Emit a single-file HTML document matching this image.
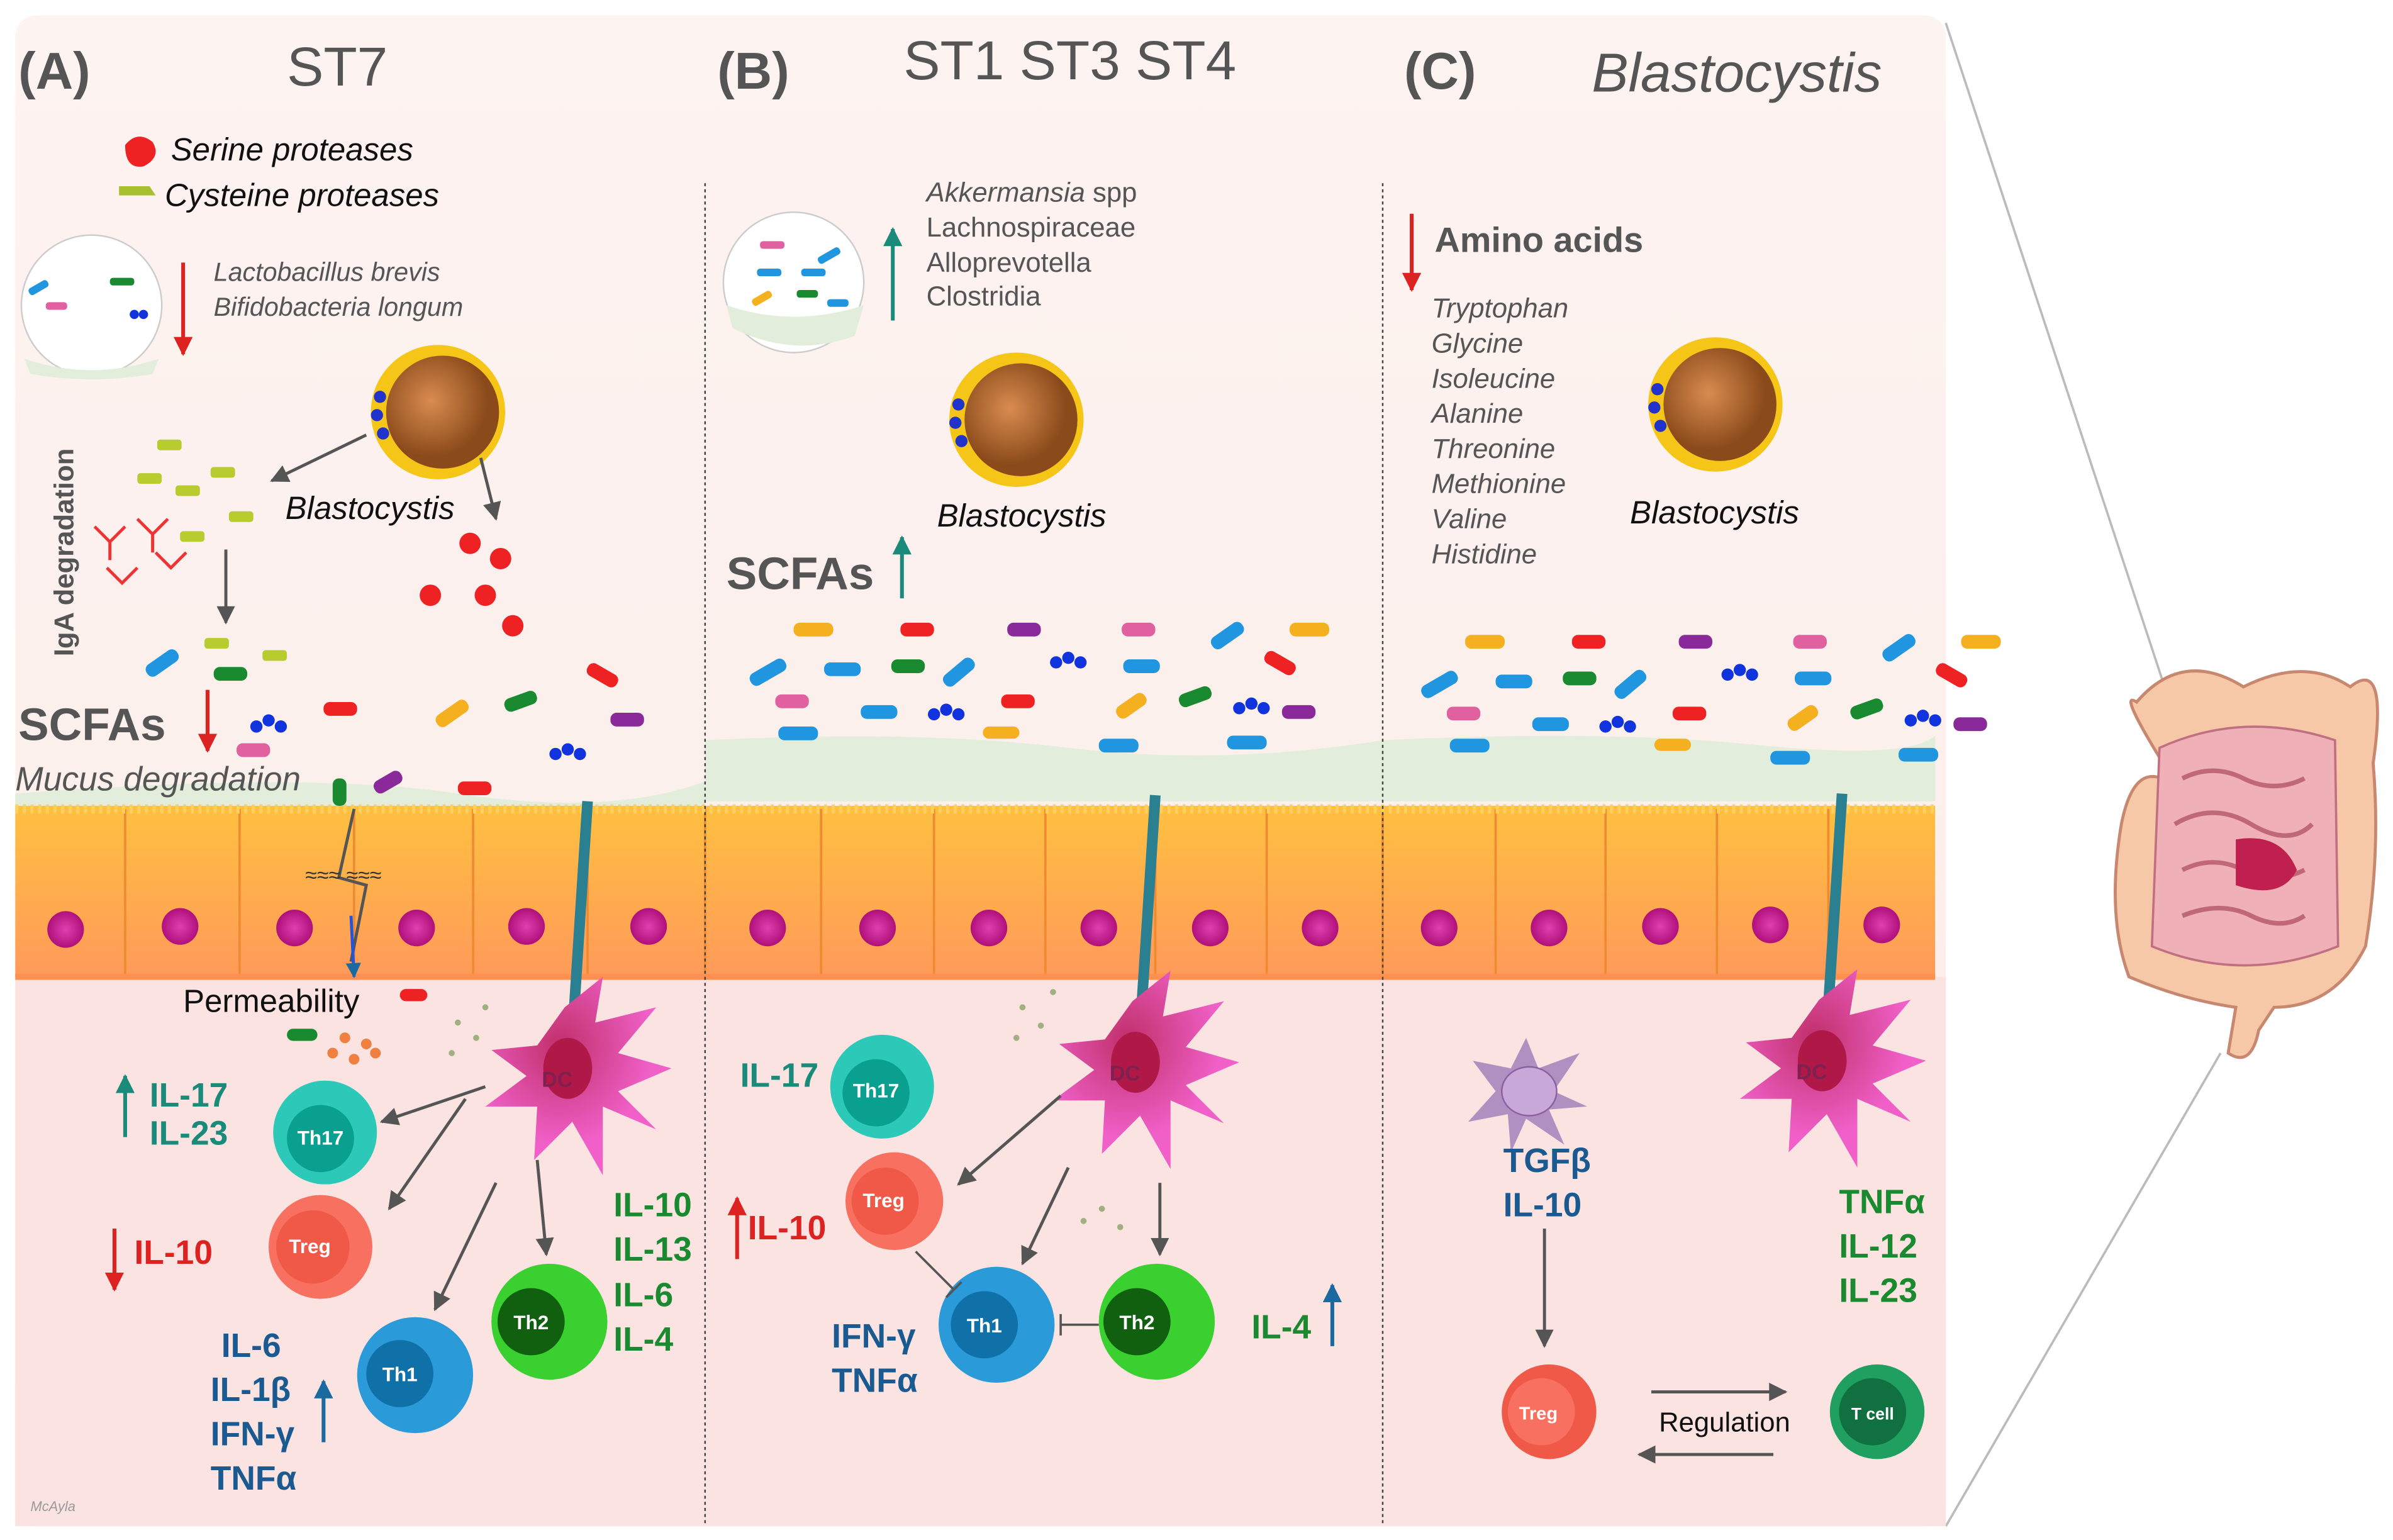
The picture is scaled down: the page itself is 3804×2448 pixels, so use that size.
<!DOCTYPE html>
<html><head><meta charset="utf-8"><style>
html,body{margin:0;padding:0;background:#fff;width:3804px;height:2448px;overflow:hidden}
svg{display:block}
text{font-family:"Liberation Sans",sans-serif}
.it{font-style:italic;fill:#555}
.b{font-weight:bold}
</style></head><body>
<svg width="3804" height="2448" viewBox="0 0 1568 1009" xmlns="http://www.w3.org/2000/svg">
<defs>
<linearGradient id="bg" x1="0" y1="0" x2="0" y2="1">
<stop offset="0" stop-color="#fdf3f0"/><stop offset="0.6" stop-color="#fcefec"/><stop offset="1" stop-color="#fbe2e0"/></linearGradient>
<radialGradient id="nuc"><stop offset="0" stop-color="#e040b0"/><stop offset="1" stop-color="#b0107a"/></radialGradient>
<radialGradient id="blast" cx="0.4" cy="0.4"><stop offset="0" stop-color="#d98c50"/><stop offset="1" stop-color="#8a4a1a"/></radialGradient>
<linearGradient id="epi" x1="0" y1="0" x2="0" y2="1"><stop offset="0" stop-color="#ffc040"/><stop offset="1" stop-color="#ff9a5a"/></linearGradient>
<radialGradient id="dc" cx="0.4" cy="0.35"><stop offset="0" stop-color="#c0306a"/><stop offset="1" stop-color="#f060c8"/></radialGradient>
<marker id="ar" viewBox="0 0 10 10" refX="9" refY="5" markerWidth="6" markerHeight="6" orient="auto"><path d="M0,0L10,5L0,10z" fill="#555"/></marker>
<marker id="rd" viewBox="0 0 10 10" refX="9" refY="5" markerWidth="5" markerHeight="5" orient="auto"><path d="M0,0L10,5L0,10z" fill="#d22"/></marker>
<marker id="tl" viewBox="0 0 10 10" refX="9" refY="5" markerWidth="5" markerHeight="5" orient="auto"><path d="M0,0L10,5L0,10z" fill="#1a8a7a"/></marker>
<marker id="bl" viewBox="0 0 10 10" refX="9" refY="5" markerWidth="5" markerHeight="5" orient="auto"><path d="M0,0L10,5L0,10z" fill="#1a6aa0"/></marker>
<g id="blastc"><circle r="44" fill="#f5c518"/><circle cx="3" r="37" fill="url(#blast)"/><circle cx="-38" cy="-10" r="4" fill="#2233cc"/><circle cx="-40" cy="2" r="4" fill="#2233cc"/><circle cx="-36" cy="14" r="4" fill="#2233cc"/></g>
</defs>

<!-- guide lines to intestine -->
<line x1="1275" y1="15" x2="1420" y2="455" stroke="#bbb" stroke-width="1.5"/>
<line x1="1275" y1="1000" x2="1455" y2="690" stroke="#bbb" stroke-width="1.5"/>

<rect x="10" y="10" width="1265" height="990" rx="14" fill="url(#bg)"/>
<rect x="10" y="640" width="1265" height="360" fill="#fbe3e1"/>

<!-- mucus -->
<path d="M462,485 Q600,478 700,490 T906,485 L906,525 L462,525z" fill="#e2eedb"/>
<path d="M906,485 Q1050,478 1150,488 T1268,482 L1268,525 L906,525z" fill="#e2eedb"/>
<path d="M10,520 Q200,505 300,520 T462,512 L462,530 L10,530z" fill="#e2eedb"/>

<!-- epithelium -->
<g id="cells">
<rect x="10" y="528" width="1258" height="112" fill="url(#epi)"/>
</g>
<g stroke="#f08a30" stroke-width="1.5" fill="none">
<path d="M82,530V640M157,530V640M232,530V640M310,530V640M385,530V640M462,530V640M538,530V640M612,530V640M685,530V640M757,530V640M830,530V640M906,530V640M980,530V640M1052,530V640M1125,530V640M1198,530V640"/>
</g>
<path d="M10,530 L1268,530" stroke="#ffd060" stroke-width="6" stroke-dasharray="2 3"/>
<path d="M10,640 L1268,640" stroke="#ff9050" stroke-width="4"/>
<g fill="url(#nuc)">
<circle cx="43" cy="609" r="12"/><circle cx="118" cy="607" r="12"/><circle cx="193" cy="608" r="12"/><circle cx="273" cy="608" r="12"/><circle cx="345" cy="607" r="12"/><circle cx="425" cy="607" r="12"/>
<circle cx="503" cy="608" r="12"/><circle cx="575" cy="608" r="12"/><circle cx="648" cy="608" r="12"/><circle cx="720" cy="608" r="12"/><circle cx="793" cy="608" r="12"/><circle cx="865" cy="608" r="12"/>
<circle cx="943" cy="608" r="12"/><circle cx="1015" cy="608" r="12"/><circle cx="1088" cy="607" r="12"/><circle cx="1160" cy="606" r="12"/><circle cx="1233" cy="606" r="12"/>
</g>

<!-- dividers -->
<line x1="462" y1="120" x2="462" y2="1000" stroke="#444" stroke-width="1" stroke-dasharray="2 2"/>
<line x1="906" y1="120" x2="906" y2="1000" stroke="#444" stroke-width="1" stroke-dasharray="2 2"/>

<!-- headers -->
<text x="12" y="58" font-size="34" class="b" fill="#555">(A)</text>
<text x="188" y="56" font-size="36" fill="#555">ST7</text>
<text x="470" y="58" font-size="34" class="b" fill="#555">(B)</text>
<text x="592" y="52" font-size="36" fill="#555">ST1  ST3  ST4</text>
<text x="920" y="58" font-size="34" class="b" fill="#555">(C)</text>
<text x="1043" y="60" font-size="36" font-style="italic" fill="#555">Blastocystis</text>

<!-- Panel A top -->
<path d="M82,95 q8,-10 18,-2 q6,10 -6,16 q-12,2 -12,-14z" fill="#e22"/>
<text x="112" y="105" font-size="21" font-style="italic" fill="#111">Serine proteases</text>
<path d="M78,122 h20 l4,6 h-24z" fill="#a8c030"/>
<text x="108" y="135" font-size="21" font-style="italic" fill="#111">Cysteine proteases</text>
<circle cx="60" cy="200" r="46" fill="#fff" stroke="#ccc"/>
<path d="M16,235 Q60,250 104,235 L100,245 Q60,252 20,245z" fill="#e2eedb"/>
<rect x="18" y="186" width="14" height="5" rx="2" fill="#2196e0" transform="rotate(-30 25 188)"/>
<rect x="30" y="198" width="14" height="5" rx="2" fill="#e060a0"/>
<rect x="72" y="182" width="16" height="5" rx="2" fill="#1a8a30"/>
<circle cx="88" cy="206" r="3" fill="#1133dd"/><circle cx="94" cy="206" r="3" fill="#1133dd"/>
<line x1="120" y1="172" x2="120" y2="232" stroke="#d22" stroke-width="2.5" marker-end="url(#rd)"/>
<text x="140" y="184" font-size="17" class="it">Lactobacillus brevis</text>
<text x="140" y="207" font-size="17" class="it">Bifidobacteria longum</text>
<use href="#blastc" x="287" y="270"/>
<text x="187" y="340" font-size="21" font-style="italic" fill="#111">Blastocystis</text>
<line x1="240" y1="285" x2="178" y2="315" stroke="#555" stroke-width="2" marker-end="url(#ar)"/>
<line x1="315" y1="300" x2="325" y2="340" stroke="#555" stroke-width="2" marker-end="url(#ar)"/>
<text transform="translate(48,430) rotate(-90)" font-size="18" class="b" fill="#555">IgA degradation</text>
<g fill="#b8cc30">
<rect x="103" y="288" width="16" height="7" rx="2"/><rect x="90" y="310" width="16" height="7" rx="2"/><rect x="115" y="318" width="16" height="7" rx="2"/><rect x="138" y="306" width="16" height="7" rx="2"/><rect x="118" y="348" width="16" height="7" rx="2"/><rect x="150" y="335" width="16" height="7" rx="2"/><rect x="134" y="418" width="16" height="7" rx="2"/><rect x="172" y="426" width="16" height="7" rx="2"/>
</g>
<g stroke="#e33" stroke-width="2" fill="none">
<path d="M62,345 l10,10 l10,-10 M72,355 v12"/><path d="M90,340 l10,10 l10,-10 M100,350 v12"/><path d="M70,372 l10,10 l10,-10"/><path d="M102,362 l10,10 l10,-10"/>
</g>
<line x1="148" y1="360" x2="148" y2="408" stroke="#555" stroke-width="2" marker-end="url(#ar)"/>
<g fill="#e22">
<circle cx="308" cy="356" r="7"/><circle cx="328" cy="366" r="7"/><circle cx="282" cy="390" r="7"/><circle cx="318" cy="390" r="7"/><circle cx="336" cy="410" r="7"/>
</g>
<text x="12" y="485" font-size="30" class="b" fill="#555">SCFAs</text>
<line x1="136" y1="452" x2="136" y2="492" stroke="#d22" stroke-width="2.5" marker-end="url(#rd)"/>
<text x="10" y="518" font-size="22" class="it">Mucus degradation</text>
<!-- A bacteria -->
<g>
<rect x="94" y="430" width="24" height="9" rx="4" fill="#2196e0" transform="rotate(-35 106 434)"/>
<rect x="140" y="437" width="22" height="9" rx="4" fill="#1a8a30"/>
<circle cx="168" cy="476" r="4" fill="#1133dd"/><circle cx="176" cy="472" r="4" fill="#1133dd"/><circle cx="184" cy="476" r="4" fill="#1133dd"/>
<rect x="212" y="460" width="22" height="9" rx="4" fill="#e22"/>
<rect x="155" y="487" width="22" height="9" rx="4" fill="#e060a0"/>
<rect x="284" y="463" width="24" height="9" rx="4" fill="#f5b020" transform="rotate(-35 296 467)"/>
<rect x="330" y="455" width="22" height="9" rx="4" fill="#1a8a30" transform="rotate(-20 341 459)"/>
<rect x="384" y="438" width="22" height="9" rx="4" fill="#e22" transform="rotate(30 395 442)"/>
<rect x="400" y="467" width="22" height="9" rx="4" fill="#8a2a9a"/>
<circle cx="364" cy="494" r="4" fill="#1133dd"/><circle cx="372" cy="491" r="4" fill="#1133dd"/><circle cx="380" cy="494" r="4" fill="#1133dd"/>
<rect x="244" y="508" width="20" height="9" rx="4" fill="#8a2a9a" transform="rotate(-30 254 512)"/>
<rect x="300" y="512" width="22" height="9" rx="4" fill="#e22"/>
<rect x="218" y="510" width="9" height="18" rx="4" fill="#1a8a30"/>
</g>
<path d="M232,530 L222,575 L240,580 L230,630" stroke="#555" stroke-width="2" fill="none"/>
<line x1="230" y1="600" x2="232" y2="640" stroke="#2255dd" stroke-width="2" marker-end="url(#bl)"/>
<text x="200" y="578" font-size="14" fill="#333">≈≈≈    ≈≈≈</text>
<text x="120" y="663" font-size="21" fill="#111">Permeability</text>
<rect x="262" y="648" width="18" height="8" rx="4" fill="#e22"/>
<rect x="188" y="674" width="20" height="8" rx="4" fill="#1a8a30"/>
<g fill="#f08040"><circle cx="226" cy="680" r="3.5"/><circle cx="240" cy="684" r="3.5"/><circle cx="218" cy="690" r="3.5"/><circle cx="232" cy="694" r="3.5"/><circle cx="246" cy="690" r="3.5"/></g>

<!-- DCs -->
<g id="dcA">
<path d="M385,525 Q380,600 375,680" stroke="#2a8090" stroke-width="7" fill="none"/>
<path d="M370,660 L395,640 L390,670 L430,660 L405,690 L440,700 L405,715 L430,740 L395,725 L395,770 L375,735 L350,760 L352,725 L318,725 L345,705 L322,688 L352,685 Z" fill="url(#dc)"/>
<ellipse cx="372" cy="700" rx="16" ry="20" fill="#b01848"/>
<text x="355" y="712" font-size="14" class="b" fill="#802050">DC</text>
</g>
<use href="#dcA" x="372" y="-4"/>
<use href="#dcA" x="822" y="-5"/>
<g fill="#a0b080"><circle cx="300" cy="670" r="2"/><circle cx="312" cy="680" r="2"/><circle cx="296" cy="690" r="2"/><circle cx="318" cy="660" r="2"/><circle cx="670" cy="660" r="2"/><circle cx="682" cy="672" r="2"/><circle cx="666" cy="680" r="2"/><circle cx="690" cy="650" r="2"/><circle cx="710" cy="800" r="2"/><circle cx="722" cy="792" r="2"/><circle cx="734" cy="804" r="2"/></g>

<!-- Panel A cells -->
<g font-weight="bold" fill="#fff" font-size="13" text-anchor="middle">
<circle cx="213" cy="742" r="34" fill="#2cc8b8"/><circle cx="210" cy="746" r="22" fill="#0aa090"/><text x="210" y="750">Th17</text>
<circle cx="210" cy="817" r="34" fill="#f87060"/><circle cx="205" cy="817" r="24" fill="#f05848"/><text x="203" y="821">Treg</text>
<circle cx="272" cy="901" r="38" fill="#2a9ad8"/><circle cx="262" cy="900" r="22" fill="#1070a8"/><text x="262" y="905">Th1</text>
<circle cx="360" cy="866" r="38" fill="#3ad030"/><circle cx="348" cy="866" r="22" fill="#106010"/><text x="348" y="871">Th2</text>
</g>
<g stroke="#555" stroke-width="2" marker-end="url(#ar)">
<line x1="318" y1="712" x2="250" y2="735"/><line x1="305" y1="720" x2="255" y2="792"/><line x1="325" y1="775" x2="285" y2="858"/><line x1="352" y1="760" x2="358" y2="822"/>
</g>
<line x1="82" y1="745" x2="82" y2="705" stroke="#1a8a7a" stroke-width="2.5" marker-end="url(#tl)"/>
<text x="98" y="725" font-size="22" class="b" fill="#1a8a7a">IL-17</text>
<text x="98" y="750" font-size="22" class="b" fill="#1a8a7a">IL-23</text>
<line x1="75" y1="805" x2="75" y2="845" stroke="#d22" stroke-width="2.5" marker-end="url(#rd)"/>
<text x="88" y="828" font-size="22" class="b" fill="#d22">IL-10</text>
<g font-size="22" class="b" fill="#1a5a90"><text x="145" y="889">IL-6</text><text x="138" y="918">IL-1β</text><text x="138" y="947">IFN-γ</text><text x="138" y="976">TNFα</text></g>
<line x1="212" y1="945" x2="212" y2="905" stroke="#1a6aa0" stroke-width="2.5" marker-end="url(#bl)"/>
<g font-size="22" class="b" fill="#1a8a30"><text x="402" y="797">IL-10</text><text x="402" y="826">IL-13</text><text x="402" y="856">IL-6</text><text x="402" y="885">IL-4</text></g>

<!-- Panel B top -->
<circle cx="520" cy="185" r="46" fill="#fff" stroke="#ccc"/>
<path d="M476,200 Q520,215 566,200 L560,220 Q520,235 480,215z" fill="#e2eedb"/>
<rect x="498" y="158" width="16" height="5" rx="2" fill="#e060a0"/><rect x="535" y="165" width="16" height="5" rx="2" fill="#2196e0" transform="rotate(-30 543 167)"/>
<rect x="496" y="176" width="16" height="5" rx="2" fill="#2196e0"/><rect x="525" y="176" width="16" height="5" rx="2" fill="#2196e0"/>
<rect x="492" y="193" width="14" height="5" rx="2" fill="#f5b020" transform="rotate(-30 499 195)"/><rect x="522" y="190" width="14" height="5" rx="2" fill="#1a8a30"/>
<rect x="542" y="196" width="14" height="5" rx="2" fill="#2196e0"/>
<line x1="585" y1="210" x2="585" y2="150" stroke="#1a8a7a" stroke-width="2.5" marker-end="url(#tl)"/>
<text x="607" y="132" font-size="18" fill="#555"><tspan font-style="italic">Akkermansia</tspan> spp</text>
<text x="607" y="155" font-size="18" fill="#555">Lachnospiraceae</text>
<text x="607" y="178" font-size="18" fill="#555">Alloprevotella</text>
<text x="607" y="200" font-size="18" fill="#555">Clostridia</text>
<use href="#blastc" x="666" y="275"/>
<text x="614" y="345" font-size="21" font-style="italic" fill="#111">Blastocystis</text>
<text x="476" y="386" font-size="30" class="b" fill="#555">SCFAs</text>
<line x1="591" y1="392" x2="591" y2="352" stroke="#1a8a7a" stroke-width="2.5" marker-end="url(#tl)"/>

<!-- bacteria B & C -->
<g id="bact">
<rect x="520" y="408" width="26" height="9" rx="4" fill="#f5b020"/>
<rect x="590" y="408" width="22" height="9" rx="4" fill="#e22"/>
<rect x="660" y="408" width="22" height="9" rx="4" fill="#8a2a9a"/>
<rect x="735" y="408" width="22" height="9" rx="4" fill="#e060a0"/>
<rect x="792" y="412" width="24" height="9" rx="4" fill="#2196e0" transform="rotate(-35 804 416)"/>
<rect x="845" y="408" width="26" height="9" rx="4" fill="#f5b020"/>
<rect x="490" y="436" width="26" height="9" rx="4" fill="#2196e0" transform="rotate(-30 503 440)"/>
<rect x="540" y="434" width="24" height="9" rx="4" fill="#2196e0"/>
<rect x="584" y="432" width="22" height="9" rx="4" fill="#1a8a30"/>
<rect x="616" y="436" width="24" height="9" rx="4" fill="#2196e0" transform="rotate(-40 628 440)"/>
<circle cx="692" cy="434" r="4" fill="#1133dd"/><circle cx="700" cy="431" r="4" fill="#1133dd"/><circle cx="708" cy="434" r="4" fill="#1133dd"/>
<rect x="736" y="432" width="24" height="9" rx="4" fill="#2196e0"/>
<rect x="828" y="430" width="22" height="9" rx="4" fill="#e22" transform="rotate(30 839 434)"/>
<rect x="508" y="455" width="22" height="9" rx="4" fill="#e060a0"/>
<rect x="564" y="462" width="24" height="9" rx="4" fill="#2196e0"/>
<circle cx="612" cy="468" r="4" fill="#1133dd"/><circle cx="620" cy="465" r="4" fill="#1133dd"/><circle cx="628" cy="468" r="4" fill="#1133dd"/>
<rect x="656" y="455" width="22" height="9" rx="4" fill="#e22"/>
<rect x="730" y="458" width="22" height="9" rx="4" fill="#f5b020" transform="rotate(-35 741 462)"/>
<rect x="772" y="452" width="22" height="9" rx="4" fill="#1a8a30" transform="rotate(-20 783 456)"/>
<circle cx="812" cy="464" r="4" fill="#1133dd"/><circle cx="820" cy="461" r="4" fill="#1133dd"/><circle cx="828" cy="464" r="4" fill="#1133dd"/>
<rect x="840" y="462" width="22" height="9" rx="4" fill="#8a2a9a"/>
<rect x="510" y="476" width="26" height="9" rx="4" fill="#2196e0"/>
<rect x="644" y="476" width="24" height="8" rx="4" fill="#f5b020"/>
<rect x="720" y="484" width="26" height="9" rx="4" fill="#2196e0"/>
<rect x="804" y="482" width="26" height="9" rx="4" fill="#2196e0"/>
</g>
<use href="#bact" x="440" y="8" transform="translate(0,0)"/>

<!-- Panel B cells -->
<g font-weight="bold" fill="#fff" font-size="13" text-anchor="middle">
<circle cx="578" cy="712" r="34" fill="#2cc8b8"/><circle cx="574" cy="716" r="22" fill="#0aa090"/><text x="574" y="719">Th17</text>
<circle cx="586" cy="787" r="32" fill="#f87060"/><circle cx="580" cy="787" r="22" fill="#f05848"/><text x="579" y="791">Treg</text>
<circle cx="653" cy="868" r="38" fill="#2a9ad8"/><circle cx="645" cy="868" r="22" fill="#1070a8"/><text x="645" y="873">Th1</text>
<circle cx="758" cy="866" r="38" fill="#3ad030"/><circle cx="745" cy="866" r="22" fill="#106010"/><text x="745" y="871">Th2</text>
</g>
<g stroke="#555" stroke-width="2" marker-end="url(#ar)">
<line x1="695" y1="718" x2="628" y2="776"/><line x1="700" y1="765" x2="670" y2="828"/><line x1="760" y1="775" x2="760" y2="822"/>
</g>
<g stroke="#555" stroke-width="1.5"><line x1="600" y1="820" x2="625" y2="845"/><line x1="620" y1="850" x2="630" y2="840"/><line x1="720" y1="868" x2="695" y2="868"/><line x1="695" y1="861" x2="695" y2="875"/></g>
<text x="485" y="712" font-size="22" class="b" fill="#1a8a7a">IL-17</text>
<line x1="483" y1="825" x2="483" y2="785" stroke="#d22" stroke-width="2.5" marker-end="url(#rd)"/>
<text x="490" y="812" font-size="22" class="b" fill="#d22">IL-10</text>
<text x="545" y="883" font-size="22" class="b" fill="#1a5a90">IFN-γ</text>
<text x="545" y="912" font-size="22" class="b" fill="#1a5a90">TNFα</text>
<text x="820" y="877" font-size="22" class="b" fill="#1a8a30">IL-4</text>
<line x1="873" y1="882" x2="873" y2="842" stroke="#1a6aa0" stroke-width="2.5" marker-end="url(#bl)"/>

<!-- Panel C top -->
<line x1="925" y1="140" x2="925" y2="190" stroke="#d22" stroke-width="2.5" marker-end="url(#rd)"/>
<text x="940" y="165" font-size="23" class="b" fill="#555">Amino acids</text>
<g font-size="18" class="it"><text x="938" y="208">Tryptophan</text><text x="938" y="231">Glycine</text><text x="938" y="254">Isoleucine</text><text x="938" y="277">Alanine</text><text x="938" y="300">Threonine</text><text x="938" y="323">Methionine</text><text x="938" y="346">Valine</text><text x="938" y="369">Histidine</text></g>
<use href="#blastc" x="1124" y="265"/>
<text x="1068" y="343" font-size="21" font-style="italic" fill="#111">Blastocystis</text>

<!-- Panel C lower -->
<g transform="translate(1000,715)">
<path d="M-35,-20 L-10,-15 L0,-35 L8,-15 L35,-25 L18,0 L40,10 L15,12 L25,35 L0,18 L-10,40 L-12,15 L-38,20 L-20,0 Z" fill="#b090c0"/>
<ellipse cx="2" cy="0" rx="18" ry="16" fill="#c8a8d8" stroke="#8a60a0"/>
</g>
<text x="985" y="768" font-size="22" class="b" fill="#1a5a90">TGFβ</text>
<text x="985" y="797" font-size="22" class="b" fill="#1a5a90">IL-10</text>
<line x1="1012" y1="805" x2="1012" y2="882" stroke="#555" stroke-width="2" marker-end="url(#ar)"/>
<g font-size="22" class="b" fill="#1a8a30"><text x="1205" y="795">TNFα</text><text x="1205" y="824">IL-12</text><text x="1205" y="853">IL-23</text></g>
<circle cx="1015" cy="925" r="31" fill="#f05848"/><circle cx="1010" cy="925" r="22" fill="#f87060"/>
<text x="1008" y="930" font-size="12" class="b" fill="#fff" text-anchor="middle">Treg</text>
<circle cx="1230" cy="925" r="31" fill="#20a060"/><circle cx="1227" cy="925" r="22" fill="#107040"/>
<text x="1227" y="930" font-size="11" class="b" fill="#fff" text-anchor="middle">T cell</text>
<line x1="1082" y1="912" x2="1170" y2="912" stroke="#555" stroke-width="2" marker-end="url(#ar)"/>
<line x1="1162" y1="953" x2="1074" y2="953" stroke="#555" stroke-width="2" marker-end="url(#ar)"/>
<text x="1087" y="938" font-size="18" fill="#111">Regulation</text>

<!-- intestine -->
<g transform="translate(1470,560)">
<path d="M-40,-40 Q-85,-110 -70,-100 Q-40,-135 0,-110 Q40,-130 70,-110 Q95,-130 85,-60 Q90,0 80,60 Q60,100 20,100 L10,115 Q5,140 -10,130 L-5,100 Q-40,95 -75,80 Q-90,40 -80,-20 Q-70,-70 -40,-40 Z" fill="#f7c8a8" stroke="#c88870" stroke-width="2"/>
<path d="M-55,-70 Q0,-95 60,-75 L62,60 Q0,85 -60,60 Z" fill="#f0b0b8" stroke="#c07080" stroke-width="1.5"/>
<path d="M-40,-50 q20,-10 40,0 t40,0 M-45,-20 q25,-15 50,0 t40,0 M-40,10 q20,-10 40,0 t40,0 M-40,40 q25,-10 45,0 t35,0" stroke="#c06878" stroke-width="3" fill="none"/>
<path d="M-5,-10 q30,-5 40,20 q-10,20 -40,10" fill="#c02050"/>
</g>

<text x="20" y="990" font-size="9" font-style="italic" fill="#999">McAyla</text>
</svg>
</body></html>
